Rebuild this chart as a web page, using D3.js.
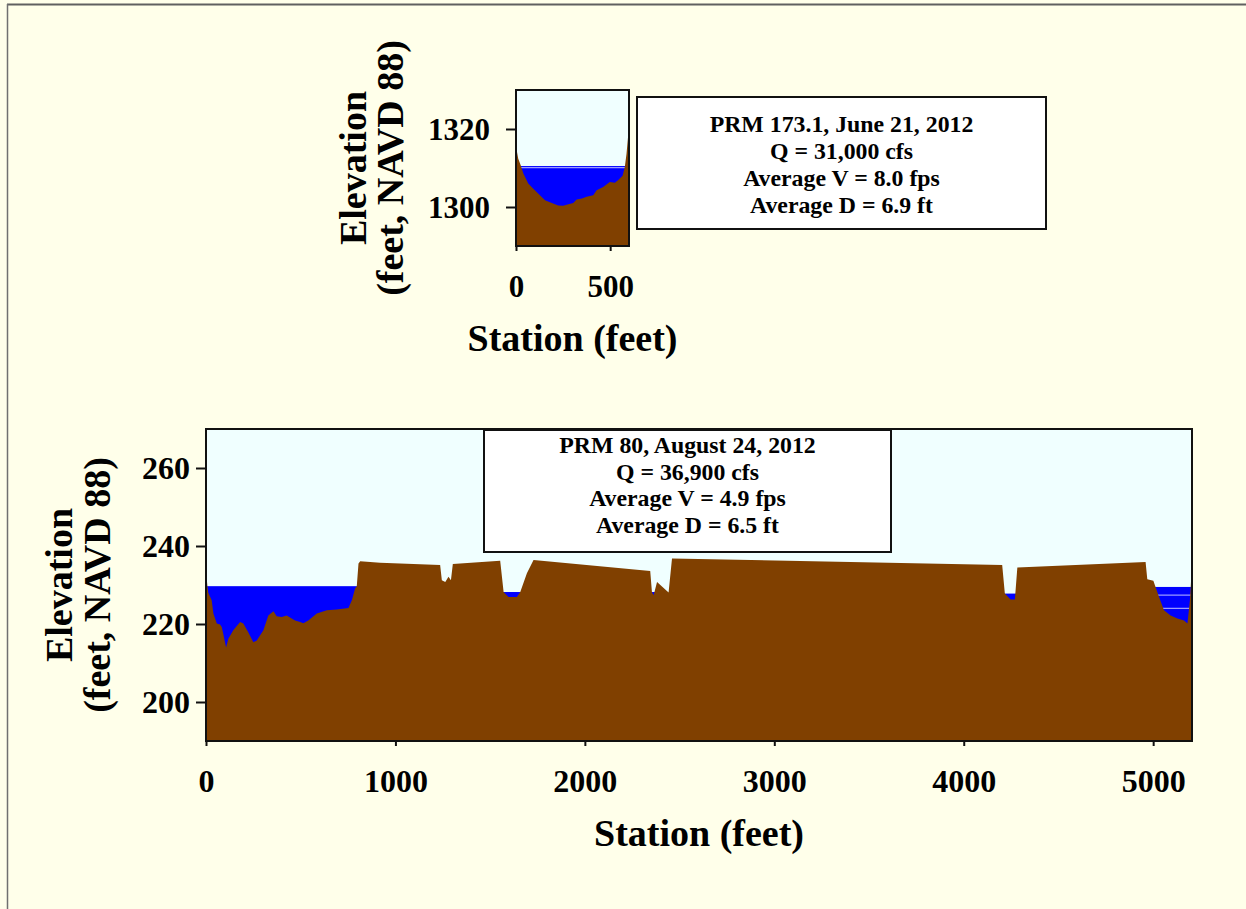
<!DOCTYPE html>
<html><head><meta charset="utf-8">
<script src="https://cdn.jsdelivr.net/npm/d3@7"></script>
<style>
body{margin:0;background:#FFFFEA;}
svg{display:block;font-family:"Liberation Serif","Times New Roman",Times,serif;font-weight:bold;}
</style>
</head><body>
<svg id="chart" width="1246" height="909"></svg>
<script>
// ---------- DATA ----------
// Upper panel: PRM 173.1 cross-section
const topStation   = [0, 12, 25, 39, 65, 92, 127, 154, 180, 207, 224, 250, 269, 304, 322, 350, 375, 410, 428, 463, 498, 525, 543, 566, 578, 587, 595, 600];
const topElevation = [1315.5, 1312.4, 1310.7, 1308.6, 1306, 1304.7, 1303, 1301.7, 1301.2, 1300.7, 1300.4, 1300.3, 1300.6, 1301, 1301.9, 1302.2, 1302.6, 1303, 1304.3, 1305.1, 1306.4, 1306.2, 1306.9, 1308, 1310.3, 1313.7, 1318, 1320];
const topPoolFrom  = [8];
const topPoolTo    = [592];
const topPoolLevel = [1310.5];
const topStreakLevel = [1310.1];
const topYTicks = [1300, 1320];
const topXTicks = [0, 500];
const topInfo = ["PRM 173.1, June 21, 2012", "Q = 31,000 cfs", "Average V = 8.0 fps", "Average D = 6.9 ft"];

// Lower panel: PRM 80 cross-section
const bottomStation   = [0, 8, 12, 30, 39, 57, 74, 83, 91, 106, 118, 144, 180, 197, 223, 250, 268, 303, 329, 356, 373, 400, 426, 470, 497, 514, 540, 585, 638, 690, 752, 770, 787, 796, 805, 814, 919, 1236, 1245, 1263, 1280, 1293, 1303, 1553, 1571, 1597, 1641, 1659, 1694, 1729, 2345, 2354, 2363, 2381, 2442, 2460, 4203, 4217, 4247, 4270, 4283, 4960, 4969, 5001, 5031, 5057, 5092, 5128, 5163, 5181, 5194, 5205];
const bottomElevation = [233.5, 229.5, 228, 226.1, 222.7, 220.1, 219.9, 219.2, 217.5, 214.0, 216.2, 218.4, 220.5, 220.1, 217.9, 215.3, 215.8, 218.4, 222.2, 223.3, 222.0, 221.8, 222.2, 220.9, 220.5, 220.2, 220.9, 222.7, 223.5, 223.7, 224.1, 226.1, 229.1, 229.7, 235.5, 236.1, 235.7, 235.1, 231.2, 230.8, 232.1, 231.2, 235.4, 236.2, 228.2, 226.9, 226.9, 228.2, 233.0, 236.4, 233.6, 228.2, 227.4, 230.8, 228.1, 236.8, 235.1, 227.8, 226.3, 226.3, 234.5, 235.9, 231.5, 231.1, 226.9, 223.5, 222.2, 221.4, 220.9, 220.1, 226.1, 235.1];
const bottomPoolFrom  = [0, 1560, 2348, 4210, 5005];
const bottomPoolTo    = [800, 1670, 2375, 4280, 5205];
const bottomPoolLevel = [229.7, 228.2, 228.2, 227.8, 229.5];
const bottomStreakLevel = [227.4, 224.0];
const bottomStreakFrom  = [5020, 5020];
const bottomStreakTo    = [5205, 5205];
const bottomYTicks = [200, 220, 240, 260];
const bottomXTicks = [0, 1000, 2000, 3000, 4000, 5000];
const bottomInfo = ["PRM 80, August 24, 2012", "Q = 36,900 cfs", "Average V = 4.9 fps", "Average D = 6.5 ft"];

const yTitle = ["Elevation", "(feet, NAVD 88)"];
const xTitle = "Station (feet)";

// ---------- DRAW ----------
const FONT = '"Liberation Serif","Times New Roman",Times,serif';
const svg = d3.select("#chart");
svg.append("rect").attr("width",1246).attr("height",909).attr("fill","#FFFFEA");
// slide frame
svg.append("line").attr("x1",7).attr("x2",1246).attr("y1",4.5).attr("y2",4.5).attr("stroke","#606060").attr("stroke-width",2);
svg.append("line").attr("x1",7.5).attr("x2",7.5).attr("y1",4).attr("y2",909).attr("stroke","#707070").attr("stroke-width",1.5);

let clipCount = 0;
function drawPanel(p){
  const x = d3.scaleLinear().domain(p.xDomain).range([p.left, p.right]);
  const y = d3.scaleLinear().domain(p.yDomain).range([p.bottom, p.top]);
  const g = svg.append("g");
  g.append("rect").attr("x",p.left).attr("y",p.top).attr("width",p.right-p.left).attr("height",p.bottom-p.top).attr("fill","#F0FFFF");
  const id = "clip"+(clipCount++);
  svg.append("defs").append("clipPath").attr("id",id).append("rect")
    .attr("x",p.left).attr("y",p.top).attr("width",p.right-p.left).attr("height",p.bottom-p.top);
  const inner = g.append("g").attr("clip-path",`url(#${id})`);
  const pools = d3.zip(p.poolFrom, p.poolTo, p.poolLevel);
  inner.selectAll("rect.water").data(pools).join("rect").attr("class","water")
    .attr("x",d=>x(d[0])).attr("width",d=>x(d[1])-x(d[0]))
    .attr("y",d=>y(d[2])).attr("height",d=>y(p.yDomain[0])-y(d[2]))
    .attr("fill","#0000FF");
  const streaks = d3.zip(p.streakFrom, p.streakTo, p.streakLevel);
  inner.selectAll("line.streak").data(streaks).join("line").attr("class","streak")
    .attr("x1",d=>x(d[0])).attr("x2",d=>x(d[1]))
    .attr("y1",d=>y(d[2])).attr("y2",d=>y(d[2]))
    .attr("stroke","#9a9aff").attr("stroke-width",1.2);
  const area = d3.area().x(d=>x(d[0])).y0(y(p.yDomain[0])).y1(d=>y(d[1]));
  inner.append("path").datum(d3.zip(p.station, p.elev)).attr("d",area).attr("fill","#804000");
  g.append("rect").attr("x",p.left).attr("y",p.top).attr("width",p.right-p.left).attr("height",p.bottom-p.top)
    .attr("fill","none").attr("stroke","#111").attr("stroke-width",2);

  const ya = g.append("g").attr("transform",`translate(${p.left},0)`)
    .call(d3.axisLeft(y).tickValues(p.yTicks).tickSize(10).tickPadding(p.yPad).tickFormat(d3.format("d")));
  const xa = g.append("g").attr("transform",`translate(0,${p.bottom})`)
    .call(d3.axisBottom(x).tickValues(p.xTicks).tickSize(5).tickPadding(p.xPad).tickFormat(d3.format("d")));
  [ya, xa].forEach(a=>{
    a.attr("font-family",FONT).attr("font-size",p.tickFont).attr("font-weight","bold");
    a.select(".domain").remove();
    a.selectAll("line").attr("stroke","#111").attr("stroke-width",2);
    a.selectAll("text").attr("fill","#000");
  });
  ya.selectAll("text").attr("dy","0.34em");

  const cy = (p.top+p.bottom)/2;
  g.append("text").attr("transform",`translate(${p.yTitleX[0]},${cy}) rotate(-90)`)
    .attr("text-anchor","middle").attr("font-size",p.titleFont).text(yTitle[0]);
  g.append("text").attr("transform",`translate(${p.yTitleX[1]},${cy}) rotate(-90)`)
    .attr("text-anchor","middle").attr("font-size",p.titleFont).text(yTitle[1]);
  g.append("text").attr("x",(p.left+p.right)/2).attr("y",p.xTitleY)
    .attr("text-anchor","middle").attr("font-size",p.titleFont).text(xTitle);

  // info box
  const b = p.box;
  g.append("rect").attr("x",b.x).attr("y",b.y).attr("width",b.w).attr("height",b.h)
    .attr("fill","#fff").attr("stroke","#111").attr("stroke-width",2);
  g.selectAll("text.info").data(p.info).join("text").attr("class","info")
    .attr("x",b.x+b.w/2).attr("y",(d,i)=>b.firstBaseline+i*b.lineGap)
    .attr("text-anchor","middle").attr("font-size",b.font).text(d=>d);
}

drawPanel({
  left:516, right:629, top:90, bottom:246,
  xDomain:[0,600], yDomain:[1290,1330],
  station:topStation, elev:topElevation,
  poolFrom:topPoolFrom, poolTo:topPoolTo, poolLevel:topPoolLevel,
  streakFrom:topPoolFrom, streakTo:topPoolTo, streakLevel:topStreakLevel,
  yTicks:topYTicks, xTicks:topXTicks, yPad:16, xPad:24, tickFont:31, titleFont:38,
  yTitleX:[366,403], xTitleY:351,
  info:topInfo, box:{x:637,y:97,w:409,h:132,firstBaseline:132,lineGap:27,font:23.8}
});
drawPanel({
  left:206, right:1192, top:429, bottom:741,
  xDomain:[0,5205], yDomain:[190,270],
  station:bottomStation, elev:bottomElevation,
  poolFrom:bottomPoolFrom, poolTo:bottomPoolTo, poolLevel:bottomPoolLevel,
  streakFrom:bottomStreakFrom, streakTo:bottomStreakTo, streakLevel:bottomStreakLevel,
  yTicks:bottomYTicks, xTicks:bottomXTicks, yPad:6, xPad:23, tickFont:32, titleFont:38,
  yTitleX:[72,110], xTitleY:846,
  info:bottomInfo, box:{x:484,y:430,w:407,h:122,firstBaseline:453,lineGap:26.5,font:23.8}
});
</script>
</body></html>
